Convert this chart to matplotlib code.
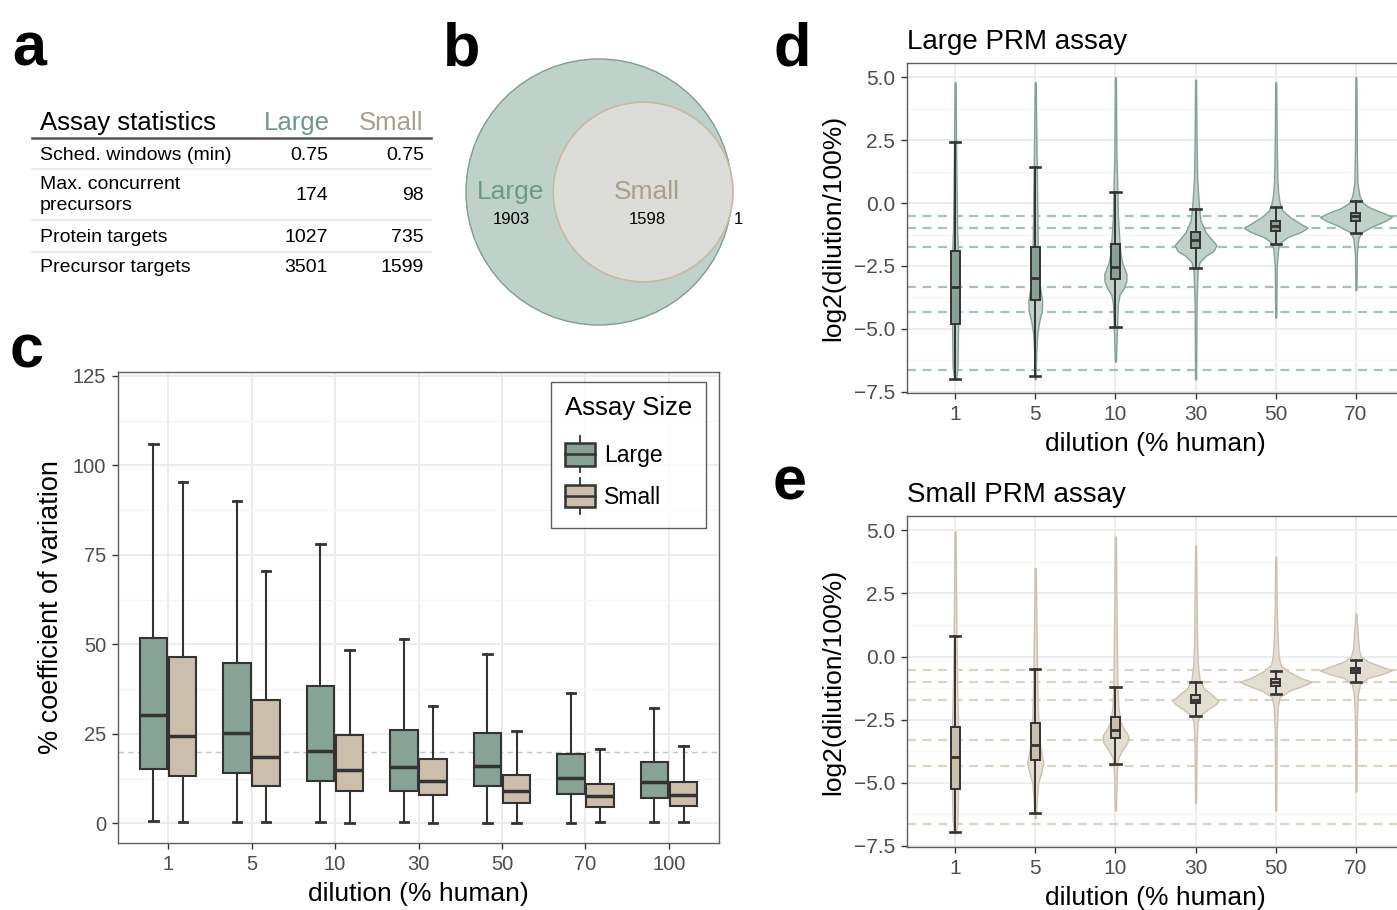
import numpy as np
import matplotlib
matplotlib.use("Agg")
from matplotlib import pyplot as plt
from matplotlib.patches import Circle, Rectangle, Patch
from matplotlib.legend_handler import HandlerBase
from matplotlib.lines import Line2D

plt.rcParams['font.family'] = ['Liberation Sans', 'DejaVu Sans']

# ---------------- data ----------------
# panel a: assay statistics table
stat_names = ['Sched. windows (min)', 'Max. concurrent\nprecursors',
              'Protein targets', 'Precursor targets']
stat_large = ['0.75', '174', '1027', '3501']
stat_small = ['0.75', '98', '735', '1599']

# panel b: precursor overlap
venn_only_large = 1903
venn_shared = 1598
venn_only_small = 1

# panel c: CV per dilution
dilutions = ['1', '5', '10', '30', '50', '70', '100']
cv_large_lo = [0.6, 0.4, 0.4, 0.3, 0.2, 0.2, 0.4]
cv_large_q1 = [15.3, 14.0, 11.9, 9.1, 10.3, 8.1, 7.2]
cv_large_med = [30.2, 25.2, 20.3, 15.8, 15.9, 12.7, 11.6]
cv_large_q3 = [51.9, 44.7, 38.4, 26.1, 25.1, 19.3, 17.2]
cv_large_hi = [106.1, 90.0, 78.0, 51.5, 47.4, 36.4, 32.2]
cv_small_lo = [0.4, 0.5, 0.2, 0.2, 0.2, 0.4, 0.4]
cv_small_q1 = [13.2, 10.3, 9.0, 7.8, 5.6, 4.6, 4.9]
cv_small_med = [24.3, 18.6, 14.8, 11.8, 8.9, 7.6, 7.9]
cv_small_q3 = [46.4, 34.4, 24.8, 18.0, 13.6, 11.1, 11.6]
cv_small_hi = [95.5, 70.5, 48.3, 32.9, 25.7, 20.8, 21.5]
cv_cutoff = 20

# panels d, e: log2 ratio to 100%
ratio_dil = [1, 5, 10, 30, 50, 70]

large_lo = [-7.0, -6.88, -4.92, -2.58, -1.64, -1.17]
large_q1 = [-4.81, -3.86, -3.03, -1.77, -1.12, -0.71]
large_med = [-3.33, -2.98, -2.54, -1.48, -0.92, -0.53]
large_q3 = [-1.9, -1.75, -1.64, -1.15, -0.73, -0.38]
large_hi = [2.42, 1.45, 0.44, -0.22, -0.16, 0.07]

small_lo = [-6.97, -6.19, -4.24, -2.37, -1.48, -1.0]
small_q1 = [-5.23, -4.09, -3.23, -1.84, -1.15, -0.66]
small_med = [-3.99, -3.5, -2.93, -1.71, -1.01, -0.55]
small_q3 = [-2.78, -2.65, -2.4, -1.51, -0.89, -0.46]
small_hi = [0.82, -0.51, -1.2, -1.01, -0.56, -0.14]

# violin density profiles (log2 ratio, density as % of category spacing)
large_vy = [
    [-7.0, -6.5, -5.0, -3.5, -2.0, -1.0, 0.5, 2.5, 4.8],
    [-7.0, -6.0, -5.2, -4.7, -4.3, -3.9, -3.4, -2.8, -1.5, 0.0, 1.5, 3.0, 4.8],
    [-6.3, -5.0, -4.0, -3.65, -3.4, -3.1, -2.8, -2.4, -2.0, -1.5, -0.5, 0.5, 2.0, 5.0],
    [-7.0, -4.0, -2.7, -2.35, -2.1, -1.9, -1.67, -1.4, -1.15, -0.7, -0.2, 0.4, 1.0, 2.5, 4.9],
    [-4.55, -2.5, -1.8, -1.55, -1.35, -1.15, -0.98, -0.8, -0.55, -0.3, 0.0, 0.4, 1.0, 2.5, 4.8],
    [-3.45, -2.0, -1.4, -1.15, -0.9, -0.7, -0.55, -0.4, -0.2, 0.0, 0.3, 0.8, 2.0, 5.0],
]
large_vd = [
    [1.2, 3.1, 3.7, 4.4, 3.7, 2.5, 1.9, 1.2, 0.6],
    [0.6, 1.2, 2.5, 5.0, 8.1, 8.7, 6.2, 4.4, 3.1, 2.5, 1.9, 1.2, 0.6],
    [0.6, 1.9, 3.1, 5.0, 10.0, 13.7, 13.7, 8.7, 6.2, 5.0, 3.1, 2.5, 1.2, 0.6],
    [0.6, 1.2, 2.5, 5.0, 12.5, 22.4, 26.2, 18.7, 12.5, 6.2, 4.4, 3.1, 1.9, 1.2, 0.6],
    [0.6, 1.2, 3.1, 6.2, 15.0, 31.2, 39.9, 29.9, 17.5, 8.7, 5.0, 3.1, 1.9, 1.2, 0.6],
    [0.6, 1.2, 3.1, 7.5, 22.4, 37.4, 44.9, 34.9, 18.7, 8.7, 4.4, 1.9, 1.2, 0.6],
]
small_vy = [
    [-7.0, -6.5, -5.5, -4.0, -2.5, -1.0, 0.5, 2.5, 4.95],
    [-6.4, -5.7, -5.0, -4.6, -4.2, -3.8, -3.3, -2.5, -1.0, 0.5, 2.0, 3.5],
    [-6.1, -4.5, -4.0, -3.7, -3.4, -3.15, -2.9, -2.6, -2.0, -1.0, 0.5, 2.5, 4.75],
    [-5.8, -3.5, -2.6, -2.35, -2.1, -1.9, -1.75, -1.5, -1.25, -0.9, -0.4, 0.5, 2.5, 4.4],
    [-6.1, -3.0, -2.0, -1.6, -1.35, -1.15, -1.0, -0.85, -0.6, -0.35, 0.0, 0.6, 2.0, 3.95],
    [-5.35, -2.5, -1.5, -1.1, -0.85, -0.7, -0.55, -0.4, -0.2, 0.0, 0.3, 0.8, 1.7],
]
small_vd = [
    [1.2, 3.1, 3.7, 3.7, 3.7, 2.5, 1.9, 1.2, 0.6],
    [0.6, 1.9, 3.7, 7.5, 10.0, 7.5, 5.0, 3.7, 2.5, 1.9, 1.2, 0.6],
    [0.6, 1.9, 3.7, 8.7, 15.0, 16.2, 11.2, 6.2, 3.7, 2.5, 1.9, 1.2, 0.6],
    [0.6, 1.2, 2.5, 5.0, 15.0, 24.9, 28.7, 20.0, 10.0, 5.0, 3.1, 1.9, 1.2, 0.6],
    [0.6, 1.2, 2.5, 5.0, 17.5, 34.9, 44.9, 31.2, 16.2, 6.2, 3.7, 2.5, 1.2, 0.6],
    [0.6, 1.2, 2.5, 5.0, 15.0, 32.4, 44.9, 32.4, 15.0, 6.2, 3.7, 2.5, 0.6],
]

# ---------------- style ----------------
col_large = '#86a395'
col_small = '#cbbfab'
col_large_txt = '#6f9886'
col_small_txt = '#a89f8e'
dark = '#333333'

W, H = 1397, 910
fig = plt.figure(figsize=(W / 100, H / 100), dpi=100)


def px_axes(left, top, right, bottom):
    return fig.add_axes([left / W, 1 - bottom / H, (right - left) / W, (bottom - top) / H])


def gg_style(ax, tsize):
    for s in ax.spines.values():
        s.set_color('#5e5e5e')
        s.set_linewidth(1.0)
    ax.tick_params(which='major', length=4.5, width=1, color=dark,
                   labelcolor='#4d4d4d', labelsize=tsize, pad=4)
    ax.tick_params(which='minor', length=0)
    ax.grid(which='major', color='#ebebeb', lw=1.3)
    ax.grid(which='minor', axis='y', color='#f5f5f5', lw=0.9)
    ax.set_axisbelow(True)


def box_stats(lo, q1, med, q3, hi):
    return [dict(whislo=a, q1=b, med=c, q3=d, whishi=e, fliers=[])
            for a, b, c, d, e in zip(lo, q1, med, q3, hi)]


def draw_box(ax, stats, pos, color, width, capw, lw=1.5, medlw=2.5):
    ax.bxp(stats, positions=pos, widths=width, capwidths=capw, showfliers=False,
           patch_artist=True,
           boxprops=dict(facecolor=color, edgecolor=dark, lw=lw),
           medianprops=dict(color=dark, lw=medlw, solid_capstyle='butt'),
           whiskerprops=dict(color=dark, lw=lw),
           capprops=dict(color=dark, lw=lw + 0.5))


class BoxKey(HandlerBase):
    def create_artists(self, legend, orig_handle, xdescent, ydescent,
                       width, height, fontsize, trans):
        x0, y0 = -xdescent, -ydescent
        bh = height * 0.62
        by = y0 + (height - bh) / 2
        xm = x0 + width / 2
        box = Rectangle((x0, by), width, bh, facecolor=orig_handle.get_facecolor(),
                        edgecolor=dark, lw=1.8, transform=trans)
        med = Line2D([x0, x0 + width], [y0 + height / 2] * 2, color=dark, lw=1.8, transform=trans)
        w1 = Line2D([xm, xm], [y0, by], color=dark, lw=1.3, transform=trans)
        w2 = Line2D([xm, xm], [by + bh, y0 + height], color=dark, lw=1.3, transform=trans)
        return [w1, w2, box, med]


# overlay axes in pixel units for labels, table and venn
ov = fig.add_axes([0, 0, 1, 1])
ov.set_xlim(0, W)
ov.set_ylim(H, 0)
ov.axis('off')

for letter, (lx, ly) in zip('abcde', [(12, 65), (443, 65), (10, 368), (774, 65), (773, 499)]):
    ov.text(lx, ly, letter, fontsize=44, fontweight='bold', va='baseline', ha='left')

# ---------------- panel a ----------------
ov.text(40, 123, 'Assay statistics', fontsize=18.5, va='center', ha='left')
ov.text(330, 123, 'Large', fontsize=18.5, va='center', ha='right', color=col_large_txt)
ov.text(423, 123, 'Small', fontsize=18.5, va='center', ha='right', color=col_small_txt)
ov.plot([32, 431], [138, 138], color='#555555', lw=1.8)
row_y = [155, 195, 238, 268]
for name, vl, vs, ry in zip(stat_names, stat_large, stat_small, row_y):
    ov.text(40, ry, name, fontsize=14, va='center', ha='left', linespacing=1.25)
    ov.text(328, ry, vl, fontsize=14, va='center', ha='right')
    ov.text(424, ry, vs, fontsize=14, va='center', ha='right')
for sy in [169, 220, 252]:
    ov.plot([32, 431], [sy, sy], color='#ececec', lw=1.5)

# ---------------- panel b ----------------
k = 133 / np.sqrt(venn_only_large + venn_shared)
r_large = k * np.sqrt(venn_only_large + venn_shared)
r_small = k * np.sqrt(venn_shared + venn_only_small)
cx, cy = 599, 192
ov.add_patch(Circle((cx, cy), r_large, facecolor='#bfd2c9', edgecolor='#7c9f8e', lw=1.0))
ov.add_patch(Circle((cx + r_large - r_small + 1, cy), r_small, facecolor='#dcddd8',
                    edgecolor='#c5b8a5', lw=1.2))
ov.text(511, 192, 'Large', fontsize=19, color=col_large_txt, ha='center', va='center')
ov.text(511, 219, str(venn_only_large), fontsize=12, ha='center', va='center')
ov.text(647, 192, 'Small', fontsize=19, color=col_small_txt, ha='center', va='center')
ov.text(647, 219, str(venn_shared), fontsize=12, ha='center', va='center')
ov.text(738, 219, str(venn_only_small), fontsize=12, ha='center', va='center')

# ---------------- panel c ----------------
ax_c = px_axes(118, 372, 719, 843)
gg_style(ax_c, 14.5)
pos = np.arange(1, len(dilutions) + 1)
ax_c.axhline(cv_cutoff, color='#b9cbc2', lw=1.0, ls=(0, (4, 3)), zorder=1)
draw_box(ax_c, box_stats(cv_large_lo, cv_large_q1, cv_large_med, cv_large_q3, cv_large_hi),
         pos - 0.175, col_large, 0.33, 0.1)
draw_box(ax_c, box_stats(cv_small_lo, cv_small_q1, cv_small_med, cv_small_q3, cv_small_hi),
         pos + 0.175, col_small, 0.33, 0.1)
ax_c.set_xlim(0.4, 7.6)
ax_c.set_ylim(-5.5, 126.1)
ax_c.set_xticks(pos, dilutions)
ax_c.set_yticks([0, 25, 50, 75, 100, 125])
ax_c.set_yticks(np.arange(12.5, 125, 25), minor=True)
ax_c.set_xlabel('dilution (% human)', fontsize=19, labelpad=6)
ax_c.set_ylabel('% coefficient of variation', fontsize=19.5, labelpad=6)
leg = ax_c.legend(handles=[Patch(facecolor=col_large), Patch(facecolor=col_small)],
                  labels=['Large', 'Small'], handler_map={Patch: BoxKey()},
                  title='Assay Size', loc='upper right', bbox_to_anchor=(0.978, 0.979),
                  borderaxespad=0, fontsize=16.5, title_fontsize=18.5, frameon=True,
                  fancybox=False, edgecolor=dark, handlelength=1.3, handleheight=2.05,
                  labelspacing=0.25, handletextpad=0.4, borderpad=0.6)
leg.get_frame().set_linewidth(1.0)
leg._legend_box.align = 'left'
leg._legend_box.sep = 12

# ---------------- panels d and e ----------------
rpos = np.arange(1, len(ratio_dil) + 1)
expected = np.log2(np.array(ratio_dil) / 100)


def ratio_panel(ax, title, vys, vds, stats, fill, edge, dash):
    gg_style(ax, 15)
    for e in expected:
        ax.axhline(e, color=dash, lw=1.6, ls=(0, (4, 3)), zorder=1)
    vp = []
    widths = []
    for vy, vd, st in zip(vys, vds, stats):
        vp.append(dict(coords=np.array(vy), vals=np.array(vd), mean=st['med'],
                       median=st['med'], min=vy[0], max=vy[-1]))
        widths.append(2 * max(vd) / 100)
    parts = ax.violin(vp, positions=rpos, widths=widths, showmeans=False,
                      showextrema=False, showmedians=False)
    for b in parts['bodies']:
        b.set_facecolor(fill)
        b.set_edgecolor(edge)
        b.set_alpha(None)
        b.set_linewidth(1.0)
        b.set_zorder(2)
    draw_box(ax, stats, rpos, None, 0.11, 0.13, lw=1.4, medlw=2.0)
    ax.set_xlim(0.4, 6.6)
    ax.set_ylim(-7.56, 5.58)
    ax.set_xticks(rpos, [str(d) for d in ratio_dil])
    ax.set_yticks([-7.5, -5, -2.5, 0, 2.5, 5])
    ax.set_yticks([-6.25, -3.75, -1.25, 1.25, 3.75], minor=True)
    ax.set_title(title, loc='left', fontsize=20, pad=10)
    ax.set_xlabel('dilution (% human)', fontsize=19, labelpad=5.5)
    ax.set_ylabel('log2(dilution/100%)', fontsize=19, labelpad=6)


ax_d = px_axes(907, 62.7, 1404, 393.3)
st_d = box_stats(large_lo, large_q1, large_med, large_q3, large_hi)
ratio_panel(ax_d, 'Large PRM assay', large_vy, large_vd, st_d,
            '#bfd1c8', '#80a392', '#a7c2b4')
for p in ax_d.patches:
    p.set_facecolor(col_large)

ax_e = px_axes(907, 515.7, 1404, 847.3)
st_e = box_stats(small_lo, small_q1, small_med, small_q3, small_hi)
ratio_panel(ax_e, 'Small PRM assay', small_vy, small_vd, st_e,
            '#e4ddd2', '#cdc1ae', '#ddd3c3')
for p in ax_e.patches:
    p.set_facecolor(col_small)

fig.savefig('out.png', dpi=100)
